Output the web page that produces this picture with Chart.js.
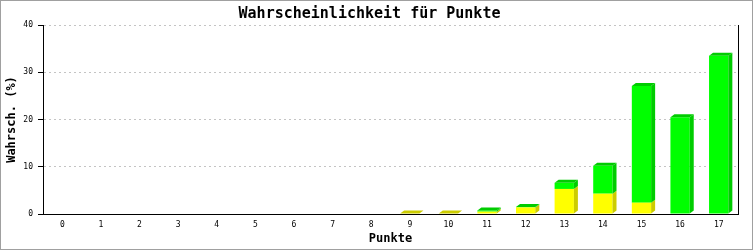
<!DOCTYPE html>
<html>
<head>
<meta charset="utf-8">
<script src="https://cdn.jsdelivr.net/npm/chart.js@4/dist/chart.umd.min.js"></script>
<style>
    body { margin: 0; background: #fff; }
    #wrap { width: 753px; height: 250px; border: 1px solid #a0a0a0; box-sizing: border-box; position: relative; }
</style>
</head>
<body>
<div id="wrap"><canvas id="pointsChart"></canvas></div>
<script>
const points = ['0', '1', '2', '3', '4', '5', '6', '7', '8', '9', '10', '11', '12', '13', '14', '15', '16', '17'];
// lower (yellow) part of each bar, in %
const yellowValues = [0, 0, 0, 0, 0, 0, 0, 0, 0, 0.1, 0.1, 0.5, 1.4, 5.3, 4.3, 2.4, 0, 0];
// upper (green) part of each bar, in %
const greenValues = [0, 0, 0, 0, 0, 0, 0, 0, 0, 0, 0, 0.25, 0.1, 1.3, 5.9, 24.7, 20.5, 33.5];

const mono = "'DejaVu Sans Mono', monospace";
const depthX = 4;
const depthY = 3;
const shades = ['#cccc00', '#00cc00'];

// draws the side and top faces so the bars look like blocks
const bars3d = {
    id: 'bars3d',
    afterDatasetsDraw(chart) {
        const ctx = chart.ctx;
        const face = (pts, color) => {
            ctx.fillStyle = color;
            ctx.beginPath();
            ctx.moveTo(pts[0][0], pts[0][1]);
            pts.slice(1).forEach(p => ctx.lineTo(p[0], p[1]));
            ctx.closePath();
            ctx.fill();
        };
        ctx.save();
        chart.data.labels.forEach((_, i) => {
            let top = null;
            chart.data.datasets.forEach((ds, d) => {
                if (!ds.data[i]) return;
                const bar = chart.getDatasetMeta(d).data[i];
                const right = bar.x + bar.width / 2;
                face([[right, bar.y], [right + depthX, bar.y - depthY], [right + depthX, bar.base - depthY], [right, bar.base]], shades[d]);
                top = { bar, shade: shades[d] };
            });
            if (top) {
                const b = top.bar;
                const left = b.x - b.width / 2;
                const right = b.x + b.width / 2;
                face([[left, b.y], [left + depthX, b.y - depthY], [right + depthX, b.y - depthY], [right, b.y]], top.shade);
            }
        });
        ctx.restore();
    },
};

const ctx = document.getElementById('pointsChart').getContext('2d');
new Chart(ctx, {
    type: 'bar',
    data: {
        labels: points,
        datasets: [
            { data: yellowValues, backgroundColor: '#ffff00', borderWidth: 0 },
            { data: greenValues, backgroundColor: '#00ff00', borderWidth: 0 },
        ],
    },
    options: {
        responsive: true,
        maintainAspectRatio: false,
        animation: false,
        events: [],
        barPercentage: 0.5,
        categoryPercentage: 1,
        layout: { padding: { right: 14 } },
        plugins: {
            legend: { display: false },
            tooltip: { enabled: false },
            title: {
                display: true,
                text: 'Wahrscheinlichkeit für Punkte',
                color: '#000',
                font: { family: mono, size: 15, weight: 'bold', lineHeight: 1.1 },
                padding: { top: 5, bottom: 2.5 },
            },
        },
        scales: {
            x: {
                stacked: true,
                grid: { display: false, drawTicks: false },
                border: { color: '#000', width: 1 },
                ticks: { color: '#000', font: { family: mono, size: 8 }, padding: 6, maxRotation: 0, autoSkip: false },
                title: { display: true, text: 'Punkte', color: '#000', font: { family: mono, size: 12, weight: 'bold' }, padding: { top: 0, bottom: 3 } },
                afterFit: s => { s.height = 35; },
            },
            y: {
                stacked: true,
                min: 0,
                max: 40,
                ticks: { stepSize: 10, color: '#000', font: { family: mono, size: 8 }, padding: 5 },
                grid: {
                    color: c => (c.tick && c.tick.value === 0 ? 'rgba(0,0,0,0)' : '#c4c4c4'),
                    tickColor: '#000',
                    tickLength: 5,
                },
                border: { color: '#000', width: 1, dash: [2, 3] },
                title: { display: true, text: 'Wahrsch. (%)', color: '#000', font: { family: mono, size: 12, weight: 'bold' }, padding: { top: 4, bottom: 0 } },
                afterFit: s => { s.width = 42; },
            },
            y2: {
                position: 'right',
                min: 0,
                max: 40,
                ticks: { display: false },
                grid: { drawOnChartArea: false, drawTicks: false },
                border: { color: '#000', width: 1 },
                afterFit: s => { s.width = 0; },
            },
        },
    },
    plugins: [bars3d],
});
</script>
</body>
</html>
